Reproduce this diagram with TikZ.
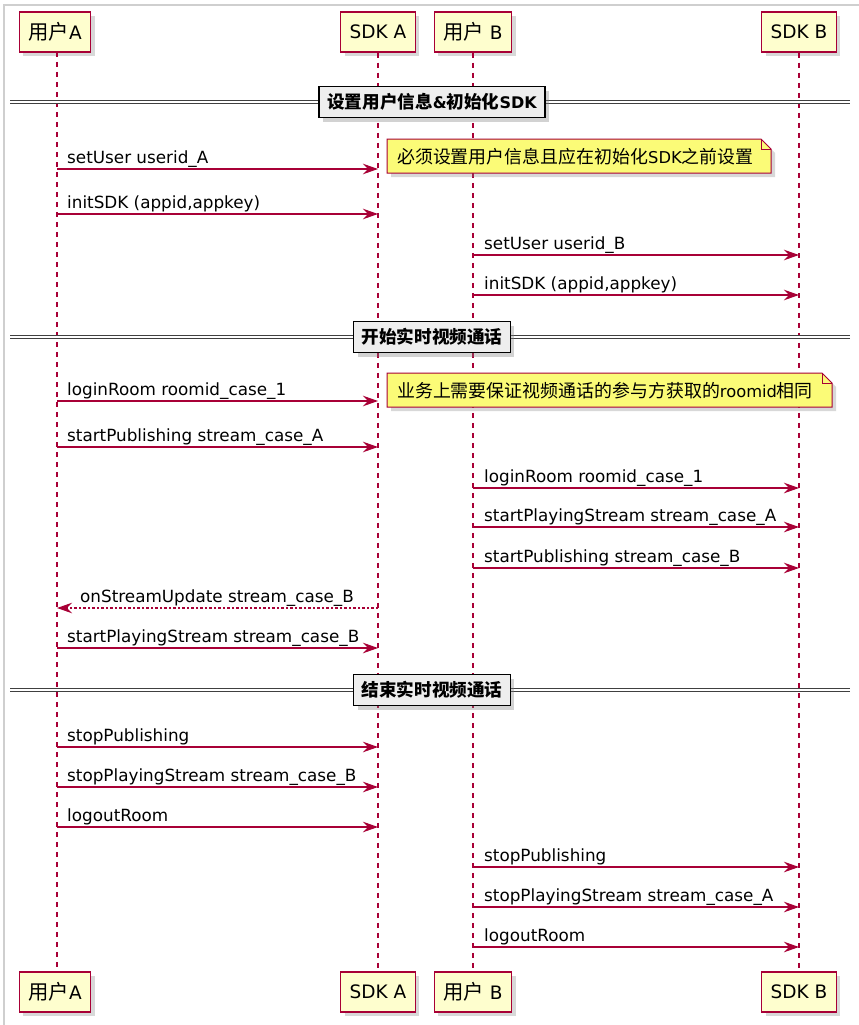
\documentclass[tikz,border=0pt]{standalone}
\usepackage{fontspec}
\setmainfont{DejaVu Sans}
\newfontfamily\cjk[Scale=1.1]{Noto Sans CJK SC}
\usetikzlibrary{arrows.meta,shadows}
\definecolor{pumlred}{HTML}{A80036}
\definecolor{partfill}{HTML}{FEFECE}
\definecolor{notefill}{HTML}{FBFB77}
\definecolor{divfill}{HTML}{EEEEEE}
\definecolor{framegray}{HTML}{CFCFCF}
\newcommand\zh[1]{{\cjk #1}}
\begin{document}
\begin{tikzpicture}[x=1pt,y=-1pt,
  participant/.style={draw=pumlred, line width=1.5pt, fill=partfill, minimum height=40pt, inner xsep=9pt,
    font=\fontsize{18.5}{21}\selectfont, drop shadow={opacity=0.3, shadow xshift=4pt, shadow yshift=-4pt}},
  lifeline/.style={draw=pumlred, line width=1.1pt, dash pattern=on 5pt off 5pt},
  msg/.style={draw=pumlred, line width=1.1pt, -{Stealth[length=15pt,width=10.5pt,inset=5pt]}},
  reply/.style={msg, dash pattern=on 2.5pt off 2pt},
  msglabel/.style={anchor=base west, inner sep=0pt, font=\fontsize{16.8}{19}\selectfont},
  divline/.style={draw=black!75, double=white, double distance=2.2pt, line width=1.2pt},
  divbox/.style={draw=black, line width=1.5pt, fill=divfill, minimum height=31pt, inner xsep=8pt,
    font=\bfseries\fontsize{16}{19}\selectfont, drop shadow={opacity=0.35, shadow xshift=4pt, shadow yshift=-4pt}},
  notetext/.style={anchor=west, inner sep=0pt, font=\fontsize{16.3}{19}\selectfont},
  noteshape/.style={draw=pumlred, line width=1pt, fill=notefill, drop shadow={opacity=0.3, shadow xshift=4pt, shadow yshift=-4pt}}
]
\useasboundingbox (0,0) rectangle (859,1025);
\fill[white] (0,0) rectangle (859,1025);
\draw[framegray, line width=2pt] (3.5,1025) -- (3.5,5.5) -- (859,5.5);

% participants
\node[participant] (ua) at (55,32) {\zh{用户}A};
\node[participant] (sa) at (378,32) {SDK A};
\node[participant] (ub) at (473,32) {\zh{用户} B};
\node[participant] (sb) at (799,32) {SDK B};
\node[participant] (ua2) at (55,992) {\zh{用户}A};
\node[participant] (sa2) at (378,992) {SDK A};
\node[participant] (ub2) at (473,992) {\zh{用户} B};
\node[participant] (sb2) at (799,992) {SDK B};

% lifelines
\coordinate (ual1) at (57,52); \coordinate (ual2) at (57,972);
\draw[lifeline] (ual1) -- (ual2);
\draw[lifeline] (sa) -- (sa2);
\draw[lifeline] (ub) -- (ub2);
\draw[lifeline] (sb) -- (sb2);

% dividers
\coordinate (d1l) at (10,102); \coordinate (d1r) at (850,102);
\coordinate (d2l) at (10,337); \coordinate (d2r) at (850,337);
\coordinate (d3l) at (10,690); \coordinate (d3r) at (850,690);
\draw[divline] (d1l) -- (d1r);
\draw[divline] (d2l) -- (d2r);
\draw[divline] (d3l) -- (d3r);
\node[divbox] (d1) at (432,102) {\zh{设置用户信息}\&\zh{初始化}SDK};
\node[divbox] (d2) at (432,337) {\zh{开始实时视频通话}};
\node[divbox] (d3) at (432,690) {\zh{结束实时视频通话}};

% notes
\path[noteshape] (387,139) -- (761,139) -- (771,149) -- (771,173) -- (387,173) -- cycle;
\draw[pumlred, line width=1pt] (761,139) -- (761,149) -- (771,149);
\node[notetext] (n1) at (397,156.5) {\zh{必须设置用户信息且应在初始化}SDK\zh{之前设置}};
\path[noteshape] (387,373) -- (822,373) -- (832,383) -- (832,407) -- (387,407) -- cycle;
\draw[pumlred, line width=1pt] (822,373) -- (822,383) -- (832,383);
\node[notetext] (n2) at (397,390.5) {\zh{业务上需要保证视频通话的参与方获取的}roomid\zh{相同}};

% messages user A -> SDK A
\foreach \yy/\tt [count=\i] in {
  169/{setUser userid\_A},
  214/{initSDK (appid,appkey)},
  401/{loginRoom roomid\_case\_1},
  447/{startPublishing stream\_case\_A},
  648/{startPlayingStream stream\_case\_B},
  747/{stopPublishing},
  787/{stopPlayingStream stream\_case\_B},
  827/{logoutRoom}}{
  \coordinate (am\i s) at (57,\yy);
  \coordinate (am\i e) at (378,\yy);
  \draw[msg] (am\i s) -- (am\i e);
  \node[msglabel] (aml\i) at (67,\yy-6) {\tt};
}

% messages user B -> SDK B
\foreach \yy/\tt [count=\i] in {
  255/{setUser userid\_B},
  295/{initSDK (appid,appkey)},
  488/{loginRoom roomid\_case\_1},
  527/{startPlayingStream stream\_case\_A},
  568/{startPublishing stream\_case\_B},
  867/{stopPublishing},
  907/{stopPlayingStream stream\_case\_A},
  947/{logoutRoom}}{
  \coordinate (bm\i s) at (473,\yy);
  \coordinate (bm\i e) at (799,\yy);
  \draw[msg] (bm\i s) -- (bm\i e);
  \node[msglabel] (bml\i) at (484,\yy-6) {\tt};
}

% reply SDK A -> user A
\coordinate (r1s) at (378,608);
\coordinate (r1e) at (57,608);
\draw[reply] (r1s) -- (r1e);
\node[msglabel] (rl1) at (80,602) {onStreamUpdate stream\_case\_B};
\end{tikzpicture}
\end{document}
